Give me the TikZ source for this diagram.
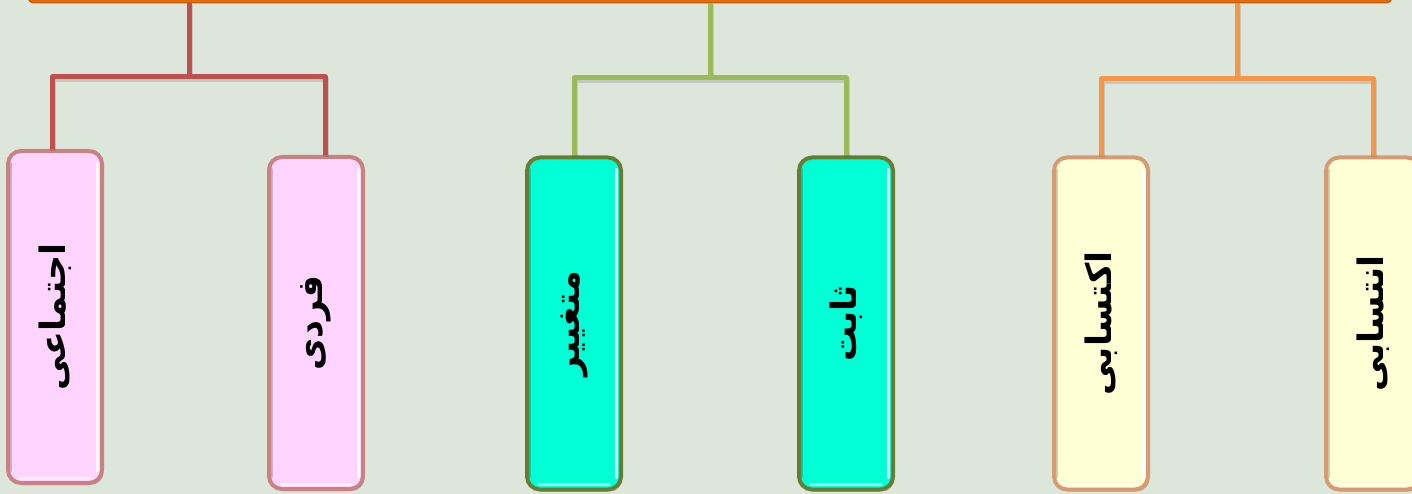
\documentclass[tikz,border=0pt]{standalone}
\usepackage{fontspec}
\usepackage{graphicx}
\newfontfamily\arabicfont[Script=Arabic]{DejaVu Sans}
\TeXXeTstate=1
\usetikzlibrary{shadows}
\definecolor{bgc}{RGB}{221,230,218}
\definecolor{pinkfill}{RGB}{255,213,255}
\definecolor{pinkedge}{RGB}{200,130,130}
\definecolor{cyanfill}{RGB}{0,255,213}
\definecolor{cyanedge}{RGB}{105,125,50}
\definecolor{yelfill}{RGB}{255,255,213}
\definecolor{yeledge}{RGB}{215,155,115}
\definecolor{redln}{RGB}{192,80,77}
\definecolor{greenln}{RGB}{155,187,89}
\definecolor{orangeln}{RGB}{247,150,70}
\definecolor{topc}{RGB}{228,108,10}
\newcommand{\fatxt}[1]{\rotatebox{90}{\raisebox{-5pt}{\fontsize{35}{40}\selectfont\arabicfont\bfseries\beginR #1\endR}}}
\tikzset{
  boxbase/.style={rounded corners=13pt, minimum width=94pt, minimum height=332pt,
    inner sep=0pt, line width=4pt, text=black,
    drop shadow={shadow xshift=1.5pt, shadow yshift=-2pt, opacity=0.35, fill=black!70}},
  pinkbox/.style={boxbase, fill=pinkfill, draw=pinkedge},
  cyanbox/.style={boxbase, fill=cyanfill, draw=cyanedge},
  yelbox/.style={boxbase, fill=yelfill, draw=yeledge},
  conn/.style={line width=5pt, line join=round},
  connshadow/.style={line width=6pt, line join=round, draw=black, opacity=0.12},
  highlight/.style={draw=white, line width=3pt, opacity=0.85, line cap=round},
  lowlight/.style={draw=black, line width=2pt, opacity=0.18, line cap=round},
  topbar/.style={fill=topc, draw=topc!80!black, line width=1pt, rounded corners=6pt,
    minimum width=1364pt, minimum height=16pt, inner sep=0pt}
}
\begin{document}
\begin{tikzpicture}[x=1pt,y=-1pt]
\useasboundingbox (0,0) rectangle (1412,494);
\fill[bgc] (0,0) rectangle (1412,494);
\clip (0,0) rectangle (1412,494);
\node[topbar] (top) at (710,-5) {};
% boxes
\node[pinkbox] (b1) at (55,317) {\fatxt{اجتماعی}};
\node[pinkbox] (b2) at (316,323) {\fatxt{فردی}};
\node[cyanbox] (b3) at (574,323.5) {\fatxt{متغییر}};
\node[cyanbox] (b4) at (846,323.5) {\fatxt{ثابت}};
\node[yelbox] (b5) at (1101,323.5) {\fatxt{اکتسابی}};
\node[yelbox] (b6) at (1373,323.5) {\fatxt{انتسابی}};
\foreach \b in {b1,b2,b3,b4,b5,b6}{
  \draw[highlight] ([xshift=-7pt,yshift=-14pt]\b.north east) -- ([xshift=-7pt,yshift=14pt]\b.south east);
  \draw[highlight, opacity=0.6] ([xshift=14pt,yshift=7pt]\b.south west) -- ([xshift=-14pt,yshift=7pt]\b.south east);
  \draw[lowlight] ([xshift=5pt,yshift=-14pt]\b.north west) -- ([xshift=5pt,yshift=14pt]\b.south west);
}
% hubs
\coordinate (hR) at (189,77);
\coordinate (hG) at (710,78);
\coordinate (hO) at (1237,79);
% shadows of connectors
\begin{scope}[transform canvas={xshift=1pt,yshift=-2pt}]
\draw[connshadow] (hR |- top.south) -- (hR);
\draw[connshadow] ([xshift=-3pt]b1.north) |- (hR) -| ([xshift=9pt]b2.north);
\draw[connshadow] (hG |- top.south) -- (hG);
\draw[connshadow] (b3.north) |- (hG) -| (b4.north);
\draw[connshadow] (hO |- top.south) -- (hO);
\draw[connshadow] (b5.north) |- (hO) -| (b6.north);
\end{scope}
% connectors
\draw[conn, redln] (hR |- top.south) -- (hR);
\draw[conn, redln] ([xshift=-3pt]b1.north) |- (hR) -| ([xshift=9pt]b2.north);
\draw[conn, greenln] (hG |- top.south) -- (hG);
\draw[conn, greenln] (b3.north) |- (hG) -| (b4.north);
\draw[conn, orangeln] (hO |- top.south) -- (hO);
\draw[conn, orangeln] (b5.north) |- (hO) -| (b6.north);
\end{tikzpicture}
\end{document}
